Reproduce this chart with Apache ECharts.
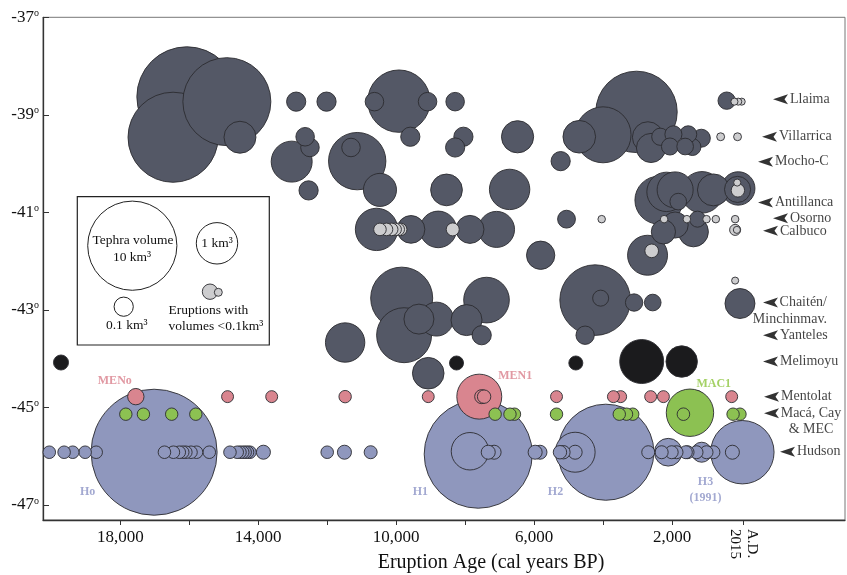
<!DOCTYPE html>
<html>
<head>
<meta charset="utf-8">
<script src="https://cdn.jsdelivr.net/npm/echarts@6/dist/echarts.min.js"></script>
<style>
  html, body { margin: 0; padding: 0; background: #fff; }
  #chart { width: 847px; height: 575px; }
</style>
</head>
<body>
<div id="chart"></div>
<script>
//*************** data: [age (cal yr BP), latitude, tephra volume km3] ***************
var darkTephra = [
    [16070, -38.63, 14.1], [16470, -39.46, 10.3], [14910, -38.73, 9.6], [14530, -39.46, 0.46],
    [12900, -38.73, 0.1], [12020, -38.73, 0.1], [9920, -38.72, 3.42], [10630, -38.73, 0.09],
    [9090, -38.73, 0.09], [8290, -38.73, 0.09], [9590, -39.45, 0.1], [12640, -39.45, 0.09],
    [12500, -39.67, 0.09], [13030, -39.96, 0.97], [12540, -40.55, 0.1], [11130, -39.95, 2.66],
    [11310, -39.67, 0.09], [10470, -40.54, 0.51], [8050, -39.45, 0.1], [8290, -39.67, 0.1],
    [6480, -39.45, 0.47], [5230, -39.95, 0.1], [8540, -40.54, 0.45], [6710, -40.53, 0.93],
    [3030, -38.94, 7.6], [4000, -39.41, 2.47], [4690, -39.45, 0.49], [2700, -39.46, 0.42],
    [2610, -39.68, 0.35], [2340, -39.45, 0.072], [2060, -39.65, 0.07], [1960, -39.40, 0.07],
    [1530, -39.40, 0.07], [1620, -39.65, 0.065], [1410, -39.66, 0.07], [1150, -39.48, 0.082],
    [415, -38.71, 0.074], [2380, -40.75, 1.56], [2160, -40.58, 0.86], [1910, -40.54, 0.66],
    [1130, -40.59, 1.01], [800, -40.54, 0.46], [80, -40.51, 0.525], [100, -40.53, 0.25],
    [1820, -40.78, 0.065], [2250, -41.40, 0.2], [1910, -41.26, 0.25], [1380, -41.40, 0.38],
    [1260, -41.14, 0.058], [5060, -41.14, 0.08], [2710, -41.88, 0.9], [10570, -41.35, 1.07],
    [9570, -41.35, 0.3], [8780, -41.35, 0.69], [7860, -41.35, 0.31], [7090, -41.35, 0.66],
    [5810, -41.88, 0.32], [9840, -42.76, 3.36], [9770, -43.52, 2.34], [9340, -43.19, 0.38],
    [8830, -43.19, 0.55], [7960, -43.21, 0.42], [7380, -42.80, 1.34], [7520, -43.52, 0.1],
    [11480, -43.67, 0.86], [9070, -44.30, 0.445], [4230, -42.80, 4.96], [4070, -42.76, 0.058],
    [3100, -42.85, 0.074], [2560, -42.85, 0.065], [4520, -43.52, 0.087], [30, -42.87, 0.38]
];
var melimoyu = [
    [19720, -44.08, 0.048], [8250, -44.09, 0.039], [4790, -44.09, 0.039], [2880, -44.06, 1.2], [1720, -44.06, 0.44]
];
var mentolat = [
    [17550, -44.78, 0.062], [14890, -44.78, 0.024], [13610, -44.78, 0.024], [11480, -44.78, 0.027],
    [9070, -44.78, 0.024], [7590, -44.78, 1.28], [7520, -44.78, 0.039], [7450, -44.78, 0.034],
    [5350, -44.78, 0.024], [3700, -44.78, 0.024], [3490, -44.78, 0.024], [2620, -44.78, 0.024],
    [2250, -44.78, 0.024], [1270, -44.78, 0.024], [270, -44.78, 0.024]
];
var maca = [
    [17840, -45.14, 0.027], [17330, -45.14, 0.027], [16510, -45.14, 0.027], [15810, -45.14, 0.027],
    [7130, -45.14, 0.027], [6700, -45.14, 0.027], [6570, -45.14, 0.027], [5350, -45.14, 0.027],
    [3530, -45.14, 0.027], [3320, -45.14, 0.027], [3140, -45.14, 0.027], [1480, -45.11, 1.5],
    [1670, -45.14, 0.028], [230, -45.14, 0.027], [30, -45.14, 0.027]
];
var hudson = [
    [17020, -45.92, 28.2], [20060, -45.92, 0.028], [19630, -45.92, 0.028], [19380, -45.92, 0.028],
    [19020, -45.92, 0.028], [18700, -45.92, 0.028], [16720, -45.92, 0.028], [16460, -45.92, 0.028],
    [16290, -45.92, 0.028], [16190, -45.92, 0.028], [16100, -45.92, 0.028], [15950, -45.92, 0.028],
    [15790, -45.92, 0.028], [15420, -45.92, 0.028], [14820, -45.92, 0.028], [14610, -45.92, 0.028],
    [14530, -45.92, 0.028], [14450, -45.92, 0.028], [14380, -45.92, 0.028], [14310, -45.92, 0.028],
    [14240, -45.92, 0.028], [13850, -45.92, 0.039], [12000, -45.92, 0.028], [11500, -45.92, 0.039],
    [10740, -45.92, 0.031], [7620, -45.96, 17.8], [7860, -45.90, 0.74], [7330, -45.92, 0.039],
    [7160, -45.92, 0.039], [5970, -45.92, 0.039], [5830, -45.92, 0.039], [5250, -45.92, 0.034],
    [5150, -45.92, 0.034], [4810, -45.92, 0.039], [3920, -45.92, 12.5], [4810, -45.92, 0.9],
    [2690, -45.92, 0.031], [2300, -45.92, 0.031], [2110, -45.92, 0.3], [2010, -45.92, 0.031],
    [1870, -45.92, 0.031], [1600, -45.92, 0.031], [1550, -45.92, 0.031], [1290, -45.92, 0.031],
    [1140, -45.92, 0.113], [1000, -45.92, 0.031], [800, -45.92, 0.031], [-40, -45.92, 3.59],
    [250, -45.92, 0.039]
];
var smallEruptions = [
    [190, -38.73, 0.005], [80, -38.73, 0.005], [-20, -38.73, 0.005],
    [590, -39.45, 0.007], [100, -39.45, 0.007],
    [90, -40.55, 0.034], [110, -40.39, 0.005],
    [4040, -41.14, 0.006], [2230, -41.14, 0.006], [1570, -41.14, 0.006], [1000, -41.14, 0.006],
    [730, -41.14, 0.006], [170, -41.14, 0.006],
    [170, -41.36, 0.019], [120, -41.36, 0.005], [2590, -41.79, 0.036],
    [10470, -41.35, 0.028], [10280, -41.35, 0.028], [10130, -41.35, 0.028], [10030, -41.35, 0.028],
    [9940, -41.35, 0.028], [9870, -41.35, 0.028], [8360, -41.35, 0.031],
    [170, -42.40, 0.005]
];

var volcanoNames = ['Llaima', 'Villarrica', 'Mocho-C', 'Antillanca', 'Osorno', 'Calbuco',
    'Chaitén/\nMinchinmav.', 'Yanteles', 'Melimoyu', 'Mentolat', 'Macá, Cay\n& MEC', 'Hudson'];
var volcanoLats = [-38.68, -39.45, -39.96, -40.80, -41.12, -41.38, -42.85, -43.52, -44.06, -44.78, -45.12, -45.91];

var groupNames = ['MENo', 'MEN1', 'MAC1', 'Ho', 'H1', 'H2', 'H3\n(1991)'];
var groupAges = [18160, 6550, 790, 18950, 9300, 5380, 1030];
var groupLats = [-44.46, -44.36, -44.52, -46.74, -46.74, -46.74, -46.70];

var xTickValues = [18000, 16000, 14000, 12000, 10000, 8000, 6000, 4000, 2000, -65];
var xLabelValues = [18000, 14000, 10000, 6000, 2000];
var yLabelValues = [-47, -45, -43, -41, -39, -37];

//*************** layout / style ***************
var FONT = "'Liberation Serif', 'Times New Roman', serif";
var K = 20.7;   // px radius of a 1 km3 bubble, radius ~ cube root of volume
// arrow tip of each volcano pointer (years BP, right of the data)
var arrowAges = [-928, -609, -493, -493, -928, -638, -638, -638, -638, -667, -667, -1131];
var groupColors = ['#d9808c', '#d9808c', '#8dc63f', '#8c93c6', '#8c93c6', '#8c93c6', '#8c93c6'];

function sizeOf(v) { return 2 * K * Math.cbrt(v[2]); }
function sortMarks(arr) {
    return arr.slice().sort(function (a, b) { return (b[2] - a[2]) || (a[0] - b[0]); });
}
function fmt(v) { return String(v).replace(/\B(?=(\d{3})+(?!\d))/g, ','); }

function bubbles(name, arr, color) {
    return {
        name: name,
        type: 'scatter',
        silent: true,
        symbol: 'circle',
        symbolSize: sizeOf,
        itemStyle: { color: color, borderColor: '#2b2b30', borderWidth: 0.9, opacity: 1 },
        data: sortMarks(arr)
    };
}

var arrowData = volcanoNames.map(function (n, i) {
    var item = { name: n, value: [arrowAges[i], volcanoLats[i]] };
    if (n.indexOf('Chaitén') === 0) {
        item.label = { align: 'right', offset: [47, 8] };
    } else if (n.indexOf('Macá') === 0) {
        item.label = { align: 'center', offset: [30, 8] };
    }
    return item;
});

var groupData = groupNames.map(function (n, i) {
    return { name: n, value: [groupAges[i], groupLats[i]], label: { color: groupColors[i] } };
});

var chart = echarts.init(document.getElementById('chart'), null, { renderer: 'canvas' });

var legendX = 77.3, legendY = 196.7;
chart.setOption({
    animation: false,
    grid: {
        left: 43, right: 2, top: 17.3, bottom: 55,
        show: true, borderColor: '#777', borderWidth: 1,
        outerBoundsMode: 'none'
    },
    xAxis: [
        {
            type: 'value', min: -3016, max: 20242, inverse: true,
            splitLine: { show: false },
            axisLine: { show: true, onZero: false, lineStyle: { color: '#333', width: 1.3 } },
            axisTick: { show: true, customValues: xTickValues, length: 5, lineStyle: { color: '#333' } },
            axisLabel: {
                customValues: xLabelValues, formatter: fmt, margin: 9,
                fontFamily: FONT, fontSize: 17, color: '#111'
            }
        },
        {
            type: 'value', min: -3016, max: 20242, inverse: true, position: 'bottom',
            splitLine: { show: false },
            axisLine: { show: false }, axisTick: { show: false },
            axisLabel: {
                customValues: [-65], rotate: -90, margin: 9,
                formatter: function () { return 'A.D.\n2015'; },
                fontFamily: FONT, fontSize: 15, lineHeight: 17, color: '#111'
            }
        }
    ],
    yAxis: {
        type: 'value', min: -47.31, max: -37,
        splitLine: { show: false },
        axisLine: { show: true, onZero: false, lineStyle: { color: '#333', width: 1.3 } },
        axisTick: { show: true, inside: true, length: 6, customValues: yLabelValues, lineStyle: { color: '#333' } },
        axisLabel: {
            customValues: yLabelValues, margin: 4,
            formatter: function (v) { return '{n|' + v + '}{o|o}'; },
            rich: {
                n: { fontFamily: FONT, fontSize: 17, color: '#111', lineHeight: 18 },
                o: { fontFamily: FONT, fontSize: 10, color: '#111', lineHeight: 12, verticalAlign: 'top' }
            }
        }
    },
    series: [
        bubbles('Hudson', hudson, '#8f97bd'),
        bubbles('Mentolat', mentolat, '#d9858f'),
        bubbles('Macá, Cay & MEC', maca, '#8cc152'),
        bubbles('Llaima - Yanteles', darkTephra, '#545866'),
        bubbles('Melimoyu', melimoyu, '#1b1b1d'),
        bubbles('< 0.1 km3', smallEruptions, '#cdcdcf'),
        {
            name: 'volcanoes',
            type: 'scatter',
            silent: true,
            symbol: 'path://M0,5 L15,0 L11.5,5 L15,10 Z',
            symbolSize: [15, 10],
            symbolOffset: [7.5, 0],
            itemStyle: { color: '#000' },
            label: {
                show: true, position: 'right', distance: 2,
                formatter: '{b}', fontFamily: FONT, fontSize: 14, lineHeight: 16.6, color: '#111'
            },
            data: arrowData
        },
        {
            name: 'groups',
            type: 'scatter',
            silent: true,
            symbolSize: 0,
            label: {
                show: true, position: 'inside', formatter: '{b}',
                fontFamily: FONT, fontSize: 12, fontWeight: 'bold', lineHeight: 16
            },
            data: groupData
        }
    ],
    graphic: [
        {
            type: 'rect', shape: { x: legendX, y: legendY, width: 192, height: 148.3 },
            style: { fill: '#fff', stroke: '#222', lineWidth: 1.2 }, z: 10
        },
        { type: 'circle', shape: { cx: 132.3, cy: 245.7, r: K * Math.cbrt(10) }, style: { fill: '#fff', stroke: '#222', lineWidth: 1 }, z: 11 },
        { type: 'circle', shape: { cx: 217, cy: 243.3, r: K }, style: { fill: '#fff', stroke: '#222', lineWidth: 1 }, z: 11 },
        { type: 'circle', shape: { cx: 123.7, cy: 306.7, r: K * Math.cbrt(0.1) }, style: { fill: '#fff', stroke: '#222', lineWidth: 1 }, z: 11 },
        { type: 'circle', shape: { cx: 210, cy: 291.7, r: 7.7 }, style: { fill: '#cdcdcf', stroke: '#2b2b30', lineWidth: 0.9 }, z: 11 },
        { type: 'circle', shape: { cx: 218.3, cy: 292.3, r: 4 }, style: { fill: '#cdcdcf', stroke: '#2b2b30', lineWidth: 0.9 }, z: 11 },
        { type: 'text', x: 133, y: 240, style: { text: 'Tephra volume', font: '13.5px ' + FONT, fill: '#111', align: 'center', verticalAlign: 'middle' }, z: 12 },
        { type: 'text', x: 132, y: 257, style: { text: '10 km³', font: '13.5px ' + FONT, fill: '#111', align: 'center', verticalAlign: 'middle' }, z: 12 },
        { type: 'text', x: 217, y: 243.5, style: { text: '1 km³', font: '13.5px ' + FONT, fill: '#111', align: 'center', verticalAlign: 'middle' }, z: 12 },
        { type: 'text', x: 126.7, y: 325, style: { text: '0.1 km³', font: '13.5px ' + FONT, fill: '#111', align: 'center', verticalAlign: 'middle' }, z: 12 },
        { type: 'text', x: 168.5, y: 310, style: { text: 'Eruptions with', font: '13.5px ' + FONT, fill: '#111', align: 'left', verticalAlign: 'middle' }, z: 12 },
        { type: 'text', x: 168.5, y: 326.7, style: { text: 'volumes <0.1km³', font: '13.5px ' + FONT, fill: '#111', align: 'left', verticalAlign: 'middle' }, z: 12 },
        { type: 'text', x: 491, y: 563, style: { text: 'Eruption Age (cal years BP)', font: '20px ' + FONT, fill: '#111', align: 'center', verticalAlign: 'middle' }, z: 12 }
    ]
});

window.addEventListener('resize', function () { chart.resize(); });
</script>
</body>
</html>
